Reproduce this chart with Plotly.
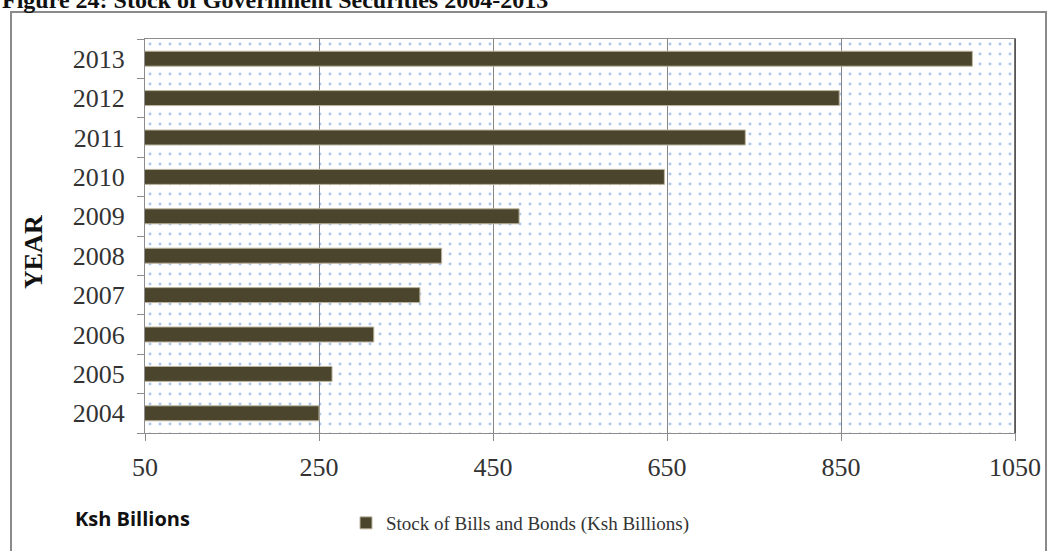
import plotly.graph_objects as go

years = [2004, 2005, 2006, 2007, 2008, 2009, 2010, 2011, 2012, 2013]
stock = [250, 265, 313, 366, 391, 480, 647, 740, 848, 1001]
series_name = "Stock of Bills and Bonds (Ksh Billions)"
x_ticks = [50, 250, 450, 650, 850, 1050]
title_text = "Figure 24: Stock of Government Securities 2004-2013"

X_RANGE = [x_ticks[0], x_ticks[-1]]
Y_RANGE = [years[0] - 0.5, years[-1] + 0.5]

W, H = 1048, 551
L, R, T, B = 145, 33, 39, 118
PW, PH = W - L - R, H - T - B

def px_x(p):
    return (p - L) / PW

def px_y(p):
    return (H - B - p) / PH

fig = go.Figure()

# dotted plot-area background (decoration), drawn as a bar behind the data bars
fig.add_trace(go.Bar(
    y=[(Y_RANGE[0] + Y_RANGE[1]) / 2], x=[X_RANGE[1] - X_RANGE[0]], base=X_RANGE[0],
    width=Y_RANGE[1] - Y_RANGE[0], orientation="h",
    marker=dict(color="rgba(0,0,0,0)", line=dict(width=0),
                pattern=dict(shape=".", size=10, solidity=0.07, fgcolor="#5f8fd8",
                             bgcolor="rgba(0,0,0,0)", fillmode="overlay")),
    hoverinfo="skip", showlegend=False,
))

fig.add_trace(go.Bar(
    y=years, x=stock, orientation="h", name=series_name,
    marker=dict(color="#4b452e", line=dict(color="#bdb59e", width=1)),
    width=0.38,
))

fig.update_layout(
    width=W, height=H,
    margin=dict(l=L, r=R, t=T, b=B, autoexpand=False),
    barmode="overlay",
    paper_bgcolor="white", plot_bgcolor="white",
    font=dict(family="Liberation Serif", color="#333333"),
    showlegend=True,
    legend=dict(orientation="h", x=px_x(346), y=px_y(523), xanchor="left", yanchor="middle",
                font=dict(family="Liberation Serif", size=19, color="#333333"),
                bgcolor="rgba(0,0,0,0)", itemwidth=30, traceorder="normal"),
    xaxis=dict(range=X_RANGE, tickvals=x_ticks, ticktext=[str(v) for v in x_ticks],
               showgrid=True, gridcolor="#858585", gridwidth=1,
               showline=True, linecolor="#8c8c8c", linewidth=1, mirror=True,
               ticks="outside", ticklen=7, tickcolor="#8c8c8c",
               tickfont=dict(size=26, family="Liberation Serif", color="#333333"),
               ticklabelstandoff=4, zeroline=False, automargin=False),
    yaxis=dict(range=Y_RANGE, tickvals=years, ticktext=[str(y) for y in years],
               showgrid=False, showline=True, linecolor="#8c8c8c", linewidth=1, mirror=True,
               ticks="", ticklen=0,
               minor=dict(tickvals=[y - 0.5 for y in years] + [years[-1] + 0.5],
                          ticks="outside", ticklen=7, tickcolor="#8c8c8c", showgrid=False),
               tickfont=dict(size=26, family="Liberation Serif", color="#333333"),
               ticklabelstandoff=14, zeroline=False, automargin=False),
    shapes=[
        dict(type="rect", xref="paper", yref="paper",
             x0=px_x(11), x1=px_x(1046), y0=px_y(600), y1=px_y(12),
             line=dict(color="#8a8a8a", width=2), fillcolor="rgba(0,0,0,0)", layer="below"),
        dict(type="line", xref="paper", yref="paper", x0=1, x1=1, y0=0, y1=1,
             line=dict(color="#444444", width=1.5)),
    ],
    annotations=[
        dict(text="YEAR", xref="paper", yref="paper", x=px_x(33), y=px_y(252),
             textangle=-90, showarrow=False, xanchor="center", yanchor="middle",
             font=dict(family="Liberation Serif", size=26, color="#111111", weight="bold")),
        dict(text="Ksh Billions", xref="paper", yref="paper", x=px_x(73), y=px_y(518),
             showarrow=False, xanchor="left", yanchor="middle",
             font=dict(family="Open Sans", size=20, color="#111111", weight="bold")),
        dict(text=title_text, xref="paper", yref="paper", x=px_x(0), y=px_y(15),
             showarrow=False, xanchor="left", yanchor="bottom",
             font=dict(family="Liberation Serif", size=24, color="#111111", weight="bold")),
    ],
)

fig.write_html("out.html", config={"displayModeBar": False},
               post_script="document.body.style.margin='0';")
